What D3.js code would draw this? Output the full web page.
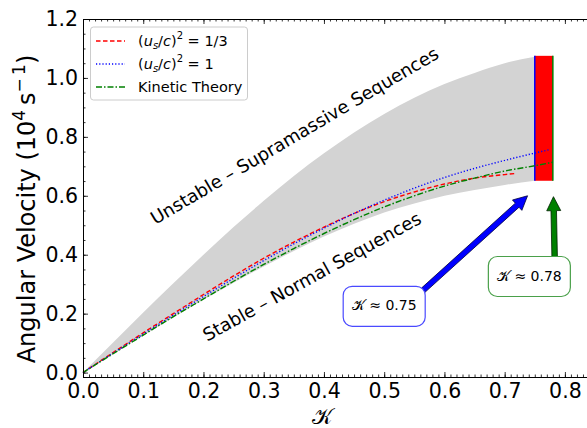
<!DOCTYPE html>
<html>
<head>
<meta charset="utf-8">
<script src="https://cdn.jsdelivr.net/npm/d3@7"></script>
<style>
  body { margin: 0; background: #fff; }
  svg { display: block; font-family: "DejaVu Sans", sans-serif; }
</style>
</head>
<body>
<svg id="chart" width="587" height="428"></svg>
<script>
// kappa grid for the shaded band
const bandK     = [0, 0.05, 0.1, 0.15, 0.2, 0.25, 0.3, 0.35, 0.4, 0.45, 0.5, 0.55, 0.6, 0.65, 0.7, 0.75];
const bandUpper = [0, 0.102, 0.204, 0.303, 0.400, 0.494, 0.583, 0.667, 0.744, 0.815, 0.878, 0.933, 0.979, 1.017, 1.050, 1.072];
const bandLower = [0, 0.063, 0.125, 0.187, 0.247, 0.305, 0.360, 0.413, 0.462, 0.505, 0.543, 0.574, 0.600, 0.620, 0.637, 0.651];

// (u_s/c)^2 = 1/3
const redK = [0, 0.05, 0.1, 0.15, 0.2, 0.25, 0.3, 0.35, 0.4, 0.45, 0.5, 0.55, 0.6, 0.65, 0.7, 0.72];
const redV = [0, 0.068, 0.135, 0.200, 0.265, 0.328, 0.388, 0.443, 0.494, 0.540, 0.580, 0.613, 0.640, 0.660, 0.672, 0.676];
// (u_s/c)^2 = 1
const blueK = [0, 0.05, 0.1, 0.15, 0.2, 0.25, 0.3, 0.35, 0.4, 0.45, 0.5, 0.55, 0.6, 0.65, 0.7, 0.75, 0.775];
const blueV = [0, 0.066, 0.131, 0.195, 0.258, 0.320, 0.380, 0.437, 0.490, 0.540, 0.585, 0.626, 0.662, 0.693, 0.720, 0.745, 0.757];
// Kinetic Theory
const greenK = [0, 0.05, 0.1, 0.15, 0.2, 0.25, 0.3, 0.35, 0.4, 0.45, 0.5, 0.55, 0.6, 0.65, 0.7, 0.75, 0.78];
const greenV = [0, 0.064, 0.127, 0.190, 0.250, 0.310, 0.367, 0.421, 0.472, 0.519, 0.562, 0.600, 0.633, 0.660, 0.684, 0.702, 0.714];

// red block between the two kappa limits
const limitK = [0.75, 0.78];
const limitV = [0.651, 1.075];

const xTicks = [0, 0.1, 0.2, 0.3, 0.4, 0.5, 0.6, 0.7, 0.8];
const yTicks = [0, 0.2, 0.4, 0.6, 0.8, 1.0, 1.2];

const svg = d3.select("#chart");
const plotLeft = 83, plotRight = 589, plotTop = 19, plotBottom = 377;

const x = d3.scaleLinear().domain([0, 0.84]).range([plotLeft, plotRight]);
const y = d3.scaleLinear().domain([-0.015, 1.2]).range([plotBottom, plotTop]);

// shaded band
const band = bandK.map((k, i) => ({ k: k, lo: bandLower[i], hi: bandUpper[i] }));
svg.append("path")
    .datum(band)
    .attr("d", d3.area().x(d => x(d.k)).y0(d => y(d.lo)).y1(d => y(d.hi)).curve(d3.curveMonotoneX))
    .attr("fill", "#d3d3d3");

// red rectangle with edge lines
svg.append("rect")
    .attr("x", x(limitK[0]))
    .attr("y", y(limitV[1]))
    .attr("width", x(limitK[1]) - x(limitK[0]))
    .attr("height", y(limitV[0]) - y(limitV[1]))
    .attr("fill", "red");
svg.append("line")
    .attr("x1", x(limitK[0])).attr("x2", x(limitK[0]))
    .attr("y1", y(limitV[0])).attr("y2", y(limitV[1]))
    .attr("stroke", "blue").attr("stroke-width", 1.5);
svg.append("line")
    .attr("x1", x(limitK[1])).attr("x2", x(limitK[1]))
    .attr("y1", y(limitV[0])).attr("y2", y(limitV[1]))
    .attr("stroke", "green").attr("stroke-width", 1.5);

// curves
const curves = [
  { k: redK, v: redV, color: "red", dash: "4.5,2.5" },
  { k: blueK, v: blueV, color: "blue", dash: "1.2,2" },
  { k: greenK, v: greenV, color: "green", dash: "6,2,1.5,2" }
];
const line = d3.line().x(d => x(d[0])).y(d => y(d[1])).curve(d3.curveMonotoneX);
curves.forEach(c => {
  svg.append("path")
      .datum(c.k.map((k, i) => [k, c.v[i]]))
      .attr("d", line)
      .attr("fill", "none")
      .attr("stroke", c.color)
      .attr("stroke-width", 1.4)
      .attr("stroke-dasharray", c.dash);
});

// region labels
const regionLabels = [
  { text: "Unstable \u2013 Supramassive Sequences", k: 0.352, v: 0.80, angle: -30.5 },
  { text: "Stable \u2013 Normal Sequences", k: 0.381, v: 0.322, angle: -29 }
];
regionLabels.forEach(l => {
  svg.append("text")
      .attr("transform", `translate(${x(l.k)},${y(l.v)}) rotate(${l.angle})`)
      .attr("text-anchor", "middle")
      .attr("dominant-baseline", "middle")
      .style("font-size", "18px")
      .text(l.text);
});

// arrows with boxed labels
function arrowPath(x0, y0, x1, y1, shaft, headW, headL) {
  const dx = x1 - x0, dy = y1 - y0, len = Math.hypot(dx, dy);
  const ux = dx / len, uy = dy / len, nx = -uy, ny = ux;
  const bx = x1 - ux * headL, by = y1 - uy * headL;
  const p = [
    [x0 + nx * shaft / 2, y0 + ny * shaft / 2],
    [bx + nx * shaft / 2, by + ny * shaft / 2],
    [bx + nx * headW / 2, by + ny * headW / 2],
    [x1, y1],
    [bx - nx * headW / 2, by - ny * headW / 2],
    [bx - nx * shaft / 2, by - ny * shaft / 2],
    [x0 - nx * shaft / 2, y0 - ny * shaft / 2]
  ];
  return "M" + p.map(q => q.join(",")).join("L") + "Z";
}

const notes = [
  { label: "0.75", boxK: 0.50, boxV: 0.225, tailK: 0.565, tailV: 0.28, tipK: 0.738, tipV: 0.60, color: "blue", edge: "#00003a" },
  { label: "0.78", boxK: 0.741, boxV: 0.326, tailK: 0.783, tailV: 0.39, tipK: 0.781, tipV: 0.597, color: "green", edge: "#002000" }
];
notes.forEach(n => {
  svg.append("path")
      .attr("d", arrowPath(x(n.tailK), y(n.tailV), x(n.tipK), y(n.tipV), 5.5, 14, 14))
      .attr("fill", n.color)
      .attr("stroke", n.edge)
      .attr("stroke-width", 0.8);
  const cx = x(n.boxK), cy = y(n.boxV);
  svg.append("rect")
      .attr("x", cx - 41).attr("y", cy - 20)
      .attr("width", 82).attr("height", 40)
      .attr("rx", 9)
      .attr("fill", "white")
      .attr("stroke", n.color === "blue" ? "#4a4aff" : "#4aa04a")
      .attr("stroke-width", 1.2);
  const t = svg.append("text")
      .attr("x", cx).attr("y", cy)
      .attr("text-anchor", "middle")
      .attr("dominant-baseline", "middle")
      .style("font-size", "14px");
  t.append("tspan").style("font-family", "'DejaVu Serif', serif").text("\u{1D4A6}");
  t.append("tspan").text(" \u2248 " + n.label);
});

// axes: inward ticks on all four sides
function styleAxis(g) {
  g.select(".domain").attr("stroke", "black").attr("stroke-width", 1);
  g.selectAll(".tick line").attr("stroke", "black").attr("stroke-width", 0.8);
}
const xMinor = d3.range(0, 85).map(i => i / 100);
const yMinor = d3.range(0, 25).map(i => i / 20);

svg.append("g").attr("transform", `translate(0,${plotBottom})`)
    .call(d3.axisBottom(x).tickValues(xMinor).tickSize(-2.5).tickFormat(""))
    .call(styleAxis);
svg.append("g").attr("transform", `translate(0,${plotTop})`)
    .call(d3.axisTop(x).tickValues(xMinor).tickSize(-2.5).tickFormat(""))
    .call(styleAxis);
svg.append("g").attr("transform", `translate(${plotLeft},0)`)
    .call(d3.axisLeft(y).tickValues(yMinor).tickSize(-2.5).tickFormat(""))
    .call(styleAxis);

const xAxis = svg.append("g").attr("transform", `translate(0,${plotBottom})`)
    .call(d3.axisBottom(x).tickValues(xTicks).tickSize(-5).tickPadding(6).tickFormat(d3.format(".1f")))
    .call(styleAxis);
svg.append("g").attr("transform", `translate(0,${plotTop})`)
    .call(d3.axisTop(x).tickValues(xTicks).tickSize(-5).tickFormat(""))
    .call(styleAxis);
const yAxis = svg.append("g").attr("transform", `translate(${plotLeft},0)`)
    .call(d3.axisLeft(y).tickValues(yTicks).tickSize(-5).tickPadding(5).tickFormat(d3.format(".1f")))
    .call(styleAxis);
[xAxis, yAxis].forEach(a => a.selectAll(".tick text")
    .attr("fill", "black")
    .style("font-size", "20.5px")
    .style("font-family", "'DejaVu Sans', sans-serif"));

// axis titles
svg.append("text")
    .attr("x", 322).attr("y", 424)
    .attr("text-anchor", "middle")
    .style("font-size", "22px")
    .style("font-family", "'DejaVu Serif', serif")
    .text("\u{1D4A6}");

const yTitle = svg.append("text")
    .attr("transform", `translate(35,209) rotate(-90)`)
    .attr("text-anchor", "middle")
    .style("font-size", "24px");
yTitle.append("tspan").text("Angular Velocity (10");
yTitle.append("tspan").attr("dy", -10).style("font-size", "17px").text("4");
yTitle.append("tspan").attr("dy", 10).text("\u2009s");
yTitle.append("tspan").attr("dy", -10).style("font-size", "17px").text("\u2212\u20091");
yTitle.append("tspan").attr("dy", 10).text(")");

// legend
const legendItems = [
  { color: "red", dash: "4.5,2.5", sup: "1/3" },
  { color: "blue", dash: "1.2,2", sup: "1" },
  { color: "green", dash: "6,2,1.5,2", text: "Kinetic Theory" }
];
const legend = svg.append("g");
legend.append("rect")
    .attr("x", 90.5).attr("y", 27)
    .attr("width", 157).attr("height", 73)
    .attr("rx", 3)
    .attr("fill", "white").attr("fill-opacity", 0.85)
    .attr("stroke", "#cccccc");
legendItems.forEach((d, i) => {
  const ly = 41 + i * 23;
  legend.append("line")
      .attr("x1", 96).attr("x2", 125)
      .attr("y1", ly).attr("y2", ly)
      .attr("stroke", d.color).attr("stroke-width", 1.4)
      .attr("stroke-dasharray", d.dash);
  const t = legend.append("text")
      .attr("x", 138).attr("y", ly + 5)
      .style("font-size", "14.5px");
  if (d.text) {
    t.text(d.text);
  } else {
    t.append("tspan").text("(");
    t.append("tspan").style("font-style", "italic").text("u");
    t.append("tspan").attr("dy", 3).style("font-size", "10px").style("font-style", "italic").text("s");
    t.append("tspan").attr("dy", -3).text("/");
    t.append("tspan").style("font-style", "italic").text("c");
    t.append("tspan").text(")");
    t.append("tspan").attr("dy", -7).style("font-size", "10px").text("2");
    t.append("tspan").attr("dy", 7).text(" = " + d.sup);
  }
});
</script>
</body>
</html>
